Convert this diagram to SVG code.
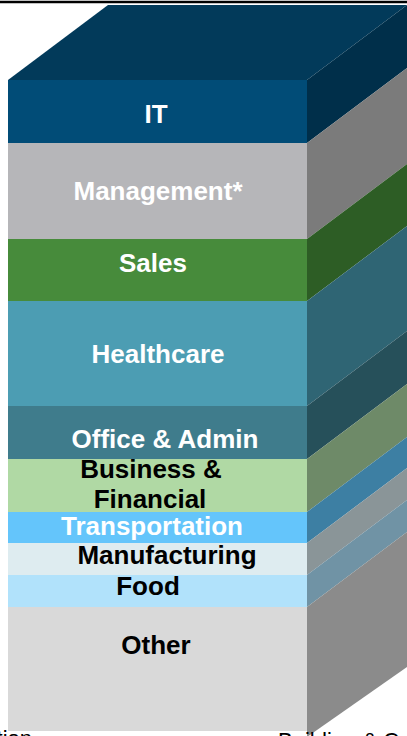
<svg xmlns="http://www.w3.org/2000/svg" width="407" height="736" viewBox="0 0 407 736">
<style>
.lbl{font-family:"Liberation Sans",Arial,sans-serif;font-weight:bold;font-size:26px;text-anchor:middle}
.w{fill:#ffffff}
.k{fill:#000000}
.foot{font-family:"Liberation Sans",Arial,sans-serif;font-size:22px;fill:#000000}
</style>
<rect x="0" y="0" width="407" height="736" fill="#ffffff"/>
<line x1="0" y1="2" x2="407" y2="2" stroke="#000000" stroke-width="2.5"/>
<g id="top-face">
<polygon points="8,80 108,5 407,5 307,80" fill="#023a5a"/>
</g>
<g id="band-it">
<rect x="8" y="80" width="299" height="63" fill="#014c77"/>
<polygon points="307,80 407,5 407,68 307,143" fill="#002f4a"/>
<text class="lbl w" x="156" y="123">IT</text>
</g>
<g id="band-management">
<rect x="8" y="143" width="299" height="96" fill="#b6b6b9"/>
<polygon points="307,143 407,68 407,164 307,239" fill="#7b7b7b"/>
<text class="lbl w" x="158" y="200">Management*</text>
</g>
<g id="band-sales">
<rect x="8" y="239" width="299" height="62" fill="#478b3b"/>
<polygon points="307,239 407,164 407,226 307,301" fill="#2d5d25"/>
<text class="lbl w" x="153" y="272">Sales</text>
</g>
<g id="band-healthcare">
<rect x="8" y="301" width="299" height="105" fill="#4c9db3"/>
<polygon points="307,301 407,226 407,331 307,406" fill="#2f6574"/>
<text class="lbl w" x="158" y="363">Healthcare</text>
</g>
<g id="band-office">
<rect x="8" y="406" width="299" height="53" fill="#3f7c8c"/>
<polygon points="307,406 407,331 407,384 307,459" fill="#26505a"/>
<text class="lbl w" x="165" y="448">Office &amp; Admin</text>
</g>
<g id="band-business">
<rect x="8" y="459" width="299" height="53" fill="#b0d9a4"/>
<polygon points="307,459 407,384 407,437 307,512" fill="#6e8a68"/>
<text class="lbl k" x="151" y="478">Business &amp;</text>
<text class="lbl k" x="150" y="508">Financial</text>
</g>
<g id="band-transportation">
<rect x="8" y="512" width="299" height="31" fill="#64c5fb"/>
<polygon points="307,512 407,437 407,468 307,543" fill="#3d7fa3"/>
<text class="lbl w" x="152" y="535">Transportation</text>
</g>
<g id="band-manufacturing">
<rect x="8" y="543" width="299" height="32" fill="#deecf0"/>
<polygon points="307,543 407,468 407,500 307,575" fill="#8a9598"/>
<text class="lbl k" x="167" y="564">Manufacturing</text>
</g>
<g id="band-food">
<rect x="8" y="575" width="299" height="32" fill="#b1e2fb"/>
<polygon points="307,575 407,500 407,532 307,607" fill="#7093a5"/>
<text class="lbl k" x="148" y="595">Food</text>
</g>
<g id="band-other">
<rect x="8" y="607" width="299" height="124" fill="#d9d9d9"/>
<polygon points="307,607 407,532 407,667 307,737" fill="#8b8b8b"/>
<text class="lbl k" x="156" y="654">Other</text>
</g>
<g id="connectors"></g>
<g id="footer-labels">
<text class="foot" x="32" y="746" text-anchor="end">tion</text>
<text class="foot" x="278" y="748">Building &amp; C</text>
</g>
</svg>
